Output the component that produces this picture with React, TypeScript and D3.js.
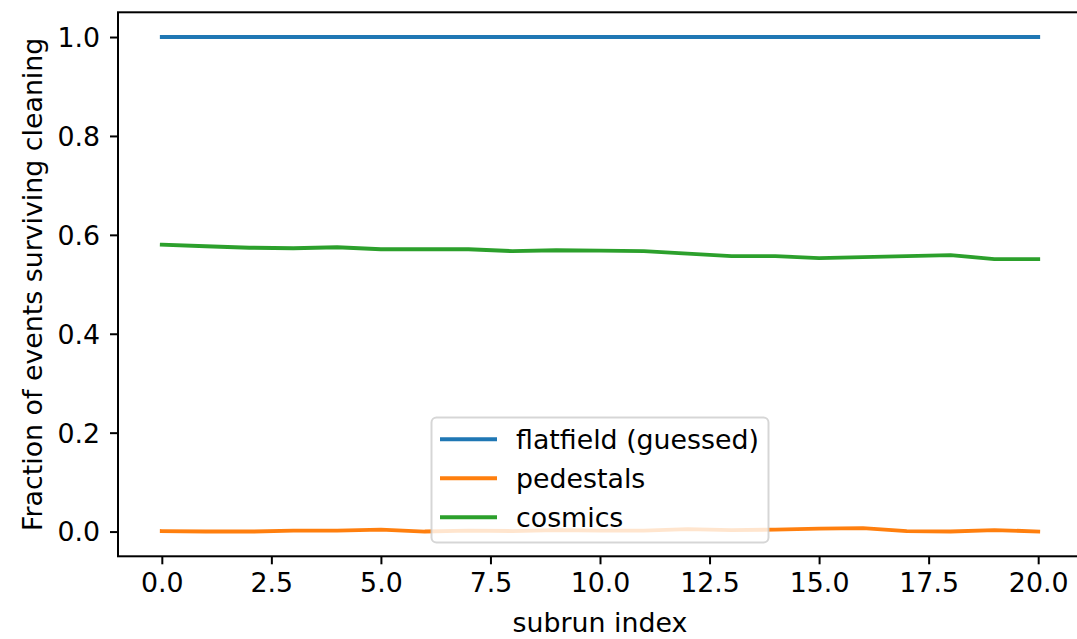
import React, { useEffect, useRef } from 'react';
import * as d3 from 'd3';

// subrun index 0..20
const subruns: number[] = [0, 1, 2, 3, 4, 5, 6, 7, 8, 9, 10, 11, 12, 13, 14, 15, 16, 17, 18, 19, 20];

const flatfield: number[] = [1, 1, 1, 1, 1, 1, 1, 1, 1, 1, 1, 1, 1, 1, 1, 1, 1, 1, 1, 1, 1];
const pedestals: number[] = [0.001, 0.0, 0.0, 0.002, 0.002, 0.004, 0.0, 0.002, 0.001, 0.003, 0.002, 0.002, 0.005, 0.003, 0.004, 0.006, 0.007, 0.001, 0.0, 0.003, 0.0];
const cosmics: number[] = [0.580, 0.577, 0.574, 0.573, 0.575, 0.571, 0.571, 0.571, 0.567, 0.569, 0.568, 0.567, 0.562, 0.557, 0.557, 0.553, 0.555, 0.557, 0.559, 0.551, 0.551];

const seriesNames: string[] = ['flatfield (guessed)', 'pedestals', 'cosmics'];
const seriesColors: string[] = ['#1f77b4', '#ff7f0e', '#2ca02c'];

const xTicks: number[] = [0, 2.5, 5, 7.5, 10, 12.5, 15, 17.5, 20];
const yTicks: number[] = [0, 0.2, 0.4, 0.6, 0.8, 1.0];

const FONT = '"DejaVu Sans", sans-serif';
const FS = 26.8;

export default function App() {
  const ref = useRef<SVGSVGElement>(null);

  useEffect(() => {
    const svg = d3.select(ref.current);
    svg.selectAll('*').remove();

    let left = 118, right = 1082, top = 12.3, bottom = 556.3;

    let x_scale = d3.scaleLinear().domain([-1, 21]).range([left, right]);
    let y_scale = d3.scaleLinear().domain([-0.05, 1.05]).range([bottom, top]);

    const g = svg.append('g');

    const allSeries = [flatfield, pedestals, cosmics];
    const line = d3.line<number>()
      .x((d, i) => x_scale(subruns[i]))
      .y(d => y_scale(d));

    allSeries.forEach((s, k) => {
      g.append('path')
        .attr('d', line(s) as string)
        .attr('fill', 'none')
        .attr('stroke', seriesColors[k])
        .attr('stroke-width', 3.9)
        .attr('stroke-linejoin', 'round')
        .attr('stroke-linecap', 'square');
    });

    // axes
    const xAxis = d3.axisBottom(x_scale)
      .tickValues(xTicks)
      .tickFormat(d => (d as number).toFixed(1))
      .tickSize(8)
      .tickPadding(9)
      .tickSizeOuter(0);
    const yAxis = d3.axisLeft(y_scale)
      .tickValues(yTicks)
      .tickFormat(d => (d as number).toFixed(1))
      .tickSize(8)
      .tickPadding(10)
      .tickSizeOuter(0);

    const gx = g.append('g').attr('transform', `translate(0,${bottom})`).call(xAxis);
    const gy = g.append('g').attr('transform', `translate(${left},0)`).call(yAxis);
    [gx, gy].forEach(a => {
      a.select('.domain').remove();
      a.selectAll('line').attr('stroke', '#000').attr('stroke-width', 2);
      a.selectAll('text')
        .attr('font-family', FONT)
        .attr('font-size', FS)
        .attr('fill', '#000');
    });
    gy.selectAll('text').attr('dy', '0.35em');

    // frame
    g.append('rect')
      .attr('x', left)
      .attr('y', top)
      .attr('width', right - left)
      .attr('height', bottom - top)
      .attr('fill', 'none')
      .attr('stroke', '#000')
      .attr('stroke-width', 2);

    // axis labels
    g.append('text')
      .attr('x', (left + right) / 2)
      .attr('y', 632)
      .attr('text-anchor', 'middle')
      .attr('font-family', FONT)
      .attr('font-size', FS)
      .text('subrun index');

    g.append('text')
      .attr('transform', `translate(42,${(top + bottom) / 2}) rotate(-90)`)
      .attr('text-anchor', 'middle')
      .attr('font-family', FONT)
      .attr('font-size', FS)
      .text('Fraction of events surviving cleaning');

    // legend
    const lg = g.append('g');
    lg.append('rect')
      .attr('x', 431.5)
      .attr('y', 417.5)
      .attr('width', 337)
      .attr('height', 125)
      .attr('rx', 5)
      .attr('fill', '#fff')
      .attr('fill-opacity', 0.8)
      .attr('stroke', '#cccccc')
      .attr('stroke-opacity', 0.8)
      .attr('stroke-width', 2);

    seriesNames.forEach((name, k) => {
      const yy = 439.3 + k * 39;
      lg.append('line')
        .attr('x1', 440)
        .attr('x2', 497)
        .attr('y1', yy)
        .attr('y2', yy)
        .attr('stroke', seriesColors[k])
        .attr('stroke-width', 3.9);
      lg.append('text')
        .attr('x', 516)
        .attr('y', yy)
        .attr('dy', '0.35em')
        .attr('font-family', FONT)
        .attr('font-size', FS)
        .text(name);
    });
  }, []);

  return (
    <svg
      ref={ref}
      width={1077}
      height={639}
      style={{ position: 'absolute', left: 0, top: 0, background: '#fff' }}
    />
  );
}
